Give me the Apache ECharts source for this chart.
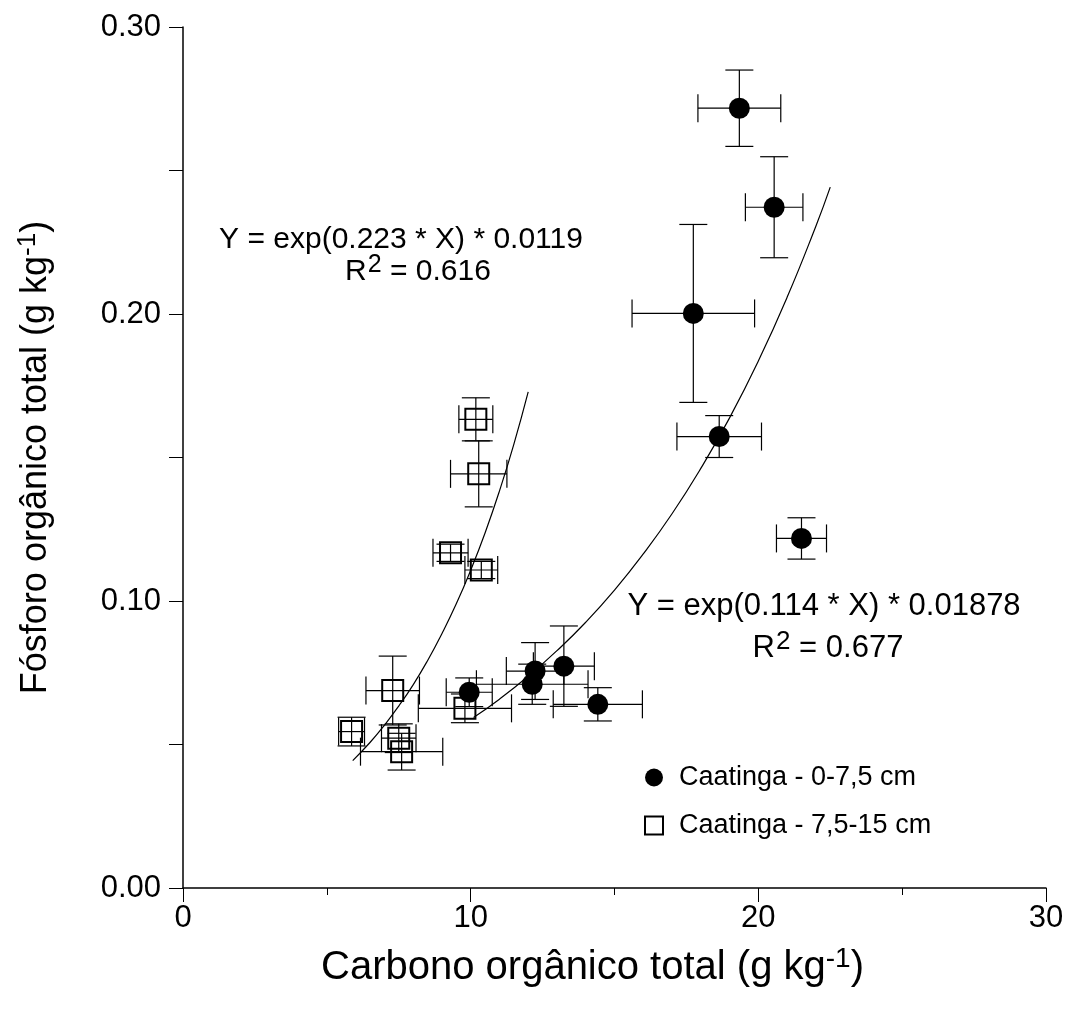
<!DOCTYPE html>
<html>
<head>
<meta charset="utf-8">
<script src="https://cdn.jsdelivr.net/npm/echarts@6/dist/echarts.min.js"></script>
<style>html,body{margin:0;padding:0;background:#fff;}#c{width:1067px;height:1015px;}</style>
</head>
<body>
<div id="c"></div>
<script>
// Caatinga 0-7,5 cm : x (C), y (P), x error, y error
const layer1X    = [19.34, 20.55, 17.74, 18.64, 21.50, 9.95, 12.24, 12.14, 13.24, 14.42];
const layer1Y    = [0.2717, 0.2372, 0.2002, 0.1573, 0.1218, 0.0682, 0.0756, 0.0710, 0.0773, 0.0640];
const layer1XErr = [1.44, 1.00, 2.13, 1.47, 0.87, 0.80, 1.00, 1.94, 1.06, 1.55];
const layer1YErr = [0.0133, 0.0176, 0.0310, 0.0073, 0.0072, 0.0050, 0.0099, 0.0070, 0.0140, 0.0058];

// Caatinga 7,5-15 cm
const layer2X    = [10.18, 10.28, 9.30, 10.37, 7.29, 9.80, 5.86, 7.50, 7.60];
const layer2Y    = [0.1633, 0.1443, 0.1168, 0.1108, 0.0688, 0.0626, 0.0545, 0.0522, 0.0475];
const layer2XErr = [0.59, 0.98, 0.61, 0.57, 0.93, 1.62, 0.45, 0.60, 1.43];
const layer2YErr = [0.0075, 0.0115, 0.0030, 0.0030, 0.0120, 0.0050, 0.0050, 0.0050, 0.0064];

// fitted curves
const fit1X = [5.9, 6.5, 7, 7.5, 8, 8.5, 9, 9.5, 10, 10.5, 11, 11.5, 12];
const fit1Y = [0.0444, 0.0507, 0.0567, 0.0634, 0.0708, 0.0792, 0.0886, 0.0990, 0.1107, 0.1237, 0.1383, 0.1546, 0.1729];
const fit2X = [10.1, 11, 12, 13, 14, 15, 16, 17, 18, 19, 20, 21, 22, 22.5];
const fit2Y = [0.0594, 0.0658, 0.0738, 0.0827, 0.0926, 0.1038, 0.1164, 0.1304, 0.1462, 0.1638, 0.1836, 0.2058, 0.2306, 0.2442];

const xTicks = [0, 10, 20, 30];
const yTicks = [0.00, 0.10, 0.20, 0.30];

const seriesNames = ['Caatinga - 0-7,5 cm', 'Caatinga - 7,5-15 cm'];
const eq1 = ['Y = exp(0.223 * X) * 0.0119', '0.616'];
const eq2 = ['Y = exp(0.114 * X) * 0.01878', '0.677'];

const FONT = 'Liberation Sans, Arial, sans-serif';

function zip(a, b) { return a.map((v, i) => [v, b[i]]); }
function zip4(a, b, c, d) { return a.map((v, i) => [v, b[i], c[i], d[i]]); }

function errRender(params, api) {
  const x = api.value(0), y = api.value(1), xe = api.value(2), ye = api.value(3);
  const c = api.coord([x, y]);
  const l = api.coord([x - xe, y]), r = api.coord([x + xe, y]);
  const t = api.coord([x, y + ye]), b = api.coord([x, y - ye]);
  const cap = 14;
  const st = { stroke: '#000', lineWidth: 1.2 };
  const ln = (x1, y1, x2, y2) => ({ type: 'line', shape: { x1, y1, x2, y2 }, style: st });
  return {
    type: 'group',
    children: [
      ln(l[0], c[1], r[0], c[1]),
      ln(l[0], c[1] - cap, l[0], c[1] + cap),
      ln(r[0], c[1] - cap, r[0], c[1] + cap),
      ln(c[0], t[1], c[0], b[1]),
      ln(c[0] - cap, t[1], c[0] + cap, t[1]),
      ln(c[0] - cap, b[1], c[0] + cap, b[1])
    ]
  };
}

const chart = echarts.init(document.getElementById('c'));
const rich1 = {
  sup: { fontSize: 25, fontFamily: FONT, color: '#000', verticalAlign: 'bottom', padding: [0, 0, 13, 1] },
  n: { fontSize: 30, fontFamily: FONT, color: '#000' }
};
const rich2 = {
  sup: { fontSize: 26, fontFamily: FONT, color: '#000', verticalAlign: 'bottom', padding: [0, 0, 13, 1] },
  n: { fontSize: 31, fontFamily: FONT, color: '#000' }
};
const richX = {
  sup: { fontSize: 28, fontFamily: FONT, color: '#000', padding: [0, 0, 18, 0] },
  n: { fontSize: 40, fontFamily: FONT, color: '#000' }
};
const richY = {
  sup: { fontSize: 26, fontFamily: FONT, color: '#000', padding: [0, 0, 16, 0] },
  n: { fontSize: 36, fontFamily: FONT, color: '#000' }
};

chart.setOption({
  animation: false,
  backgroundColor: '#fff',
  grid: { left: 183, right: 21, top: 27, bottom: 127, containLabel: false },
  xAxis: {
    type: 'value', min: xTicks[0], max: xTicks[xTicks.length - 1], interval: 10,
    name: '{n|Carbono orgânico total (g kg}{sup|-1}{n|)}',
    nameLocation: 'middle', nameGap: 57,
    nameTextStyle: { rich: richX, fontSize: 40, fontFamily: FONT, color: '#000', padding: [0, 44, 0, 0] },
    axisLine: { onZero: false, lineStyle: { color: '#000', width: 1.5 } },
    axisTick: { show: true, inside: false, length: 14, lineStyle: { color: '#000', width: 1 } },
    minorTick: { show: true, splitNumber: 2, length: 7, lineStyle: { color: '#000', width: 1 } },
    axisLabel: { fontSize: 31, fontFamily: FONT, color: '#000', margin: 15,
      formatter: v => xTicks.includes(v) ? String(v) : '' },
    splitLine: { show: false }
  },
  yAxis: {
    type: 'value', min: yTicks[0], max: yTicks[yTicks.length - 1], interval: 0.1,
    name: '{n|Fósforo orgânico total (g kg}{sup|-1}{n|)}',
    nameLocation: 'middle', nameGap: 126, nameRotate: 90,
    nameTextStyle: { rich: richY, fontSize: 36, fontFamily: FONT, color: '#000' },
    axisLine: { onZero: false, lineStyle: { color: '#000', width: 1.5 } },
    axisTick: { show: true, inside: false, length: 14, lineStyle: { color: '#000', width: 1 } },
    minorTick: { show: true, splitNumber: 2, length: 14, lineStyle: { color: '#000', width: 1 } },
    axisLabel: { fontSize: 31, fontFamily: FONT, color: '#000', margin: 22,
      formatter: v => v.toFixed(2) },
    splitLine: { show: false }
  },
  legend: {
    orient: 'vertical', left: 644, top: 764, itemGap: 21, padding: 0,
    itemWidth: 18, itemHeight: 18,
    textStyle: { fontSize: 27, fontFamily: FONT, color: '#000', padding: [0, 0, 0, 11] },
    data: [
      { name: seriesNames[0], icon: 'circle' },
      { name: seriesNames[1], icon: 'rect' }
    ]
  },
  series: [
    { type: 'custom', renderItem: errRender, data: zip4(layer1X, layer1Y, layer1XErr, layer1YErr), clip: false, z: 2, silent: true },
    { type: 'custom', renderItem: errRender, data: zip4(layer2X, layer2Y, layer2XErr, layer2YErr), clip: false, z: 2, silent: true },
    { type: 'line', data: zip(fit1X, fit1Y), smooth: true, showSymbol: false, lineStyle: { color: '#000', width: 1.2 }, z: 3, silent: true },
    { type: 'line', data: zip(fit2X, fit2Y), smooth: true, showSymbol: false, lineStyle: { color: '#000', width: 1.2 }, z: 3, silent: true },
    { name: seriesNames[0], type: 'scatter', data: zip(layer1X, layer1Y), symbol: 'circle', symbolSize: 21,
      itemStyle: { color: '#000', opacity: 1 }, z: 5 },
    { name: seriesNames[1], type: 'scatter', data: zip(layer2X, layer2Y), symbol: 'rect', symbolSize: 21,
      itemStyle: { color: 'rgba(255,255,255,0)', borderColor: '#000', borderWidth: 2, opacity: 1 }, z: 5 }
  ],
  graphic: [
    { type: 'text', x: 401, y: 240, style: { text: eq1[0], font: '30px ' + FONT, fill: '#000', align: 'center', verticalAlign: 'middle' } },
    { type: 'text', x: 418, y: 272, style: { text: '{n|R}{sup|2}{n| = ' + eq1[1] + '}', rich: rich1, align: 'center', verticalAlign: 'middle' } },
    { type: 'text', x: 824, y: 606, style: { text: eq2[0], font: '31px ' + FONT, fill: '#000', align: 'center', verticalAlign: 'middle' } },
    { type: 'text', x: 828, y: 648, style: { text: '{n|R}{sup|2}{n| = ' + eq2[1] + '}', rich: rich2, align: 'center', verticalAlign: 'middle' } }
  ]
});
</script>
</body>
</html>
